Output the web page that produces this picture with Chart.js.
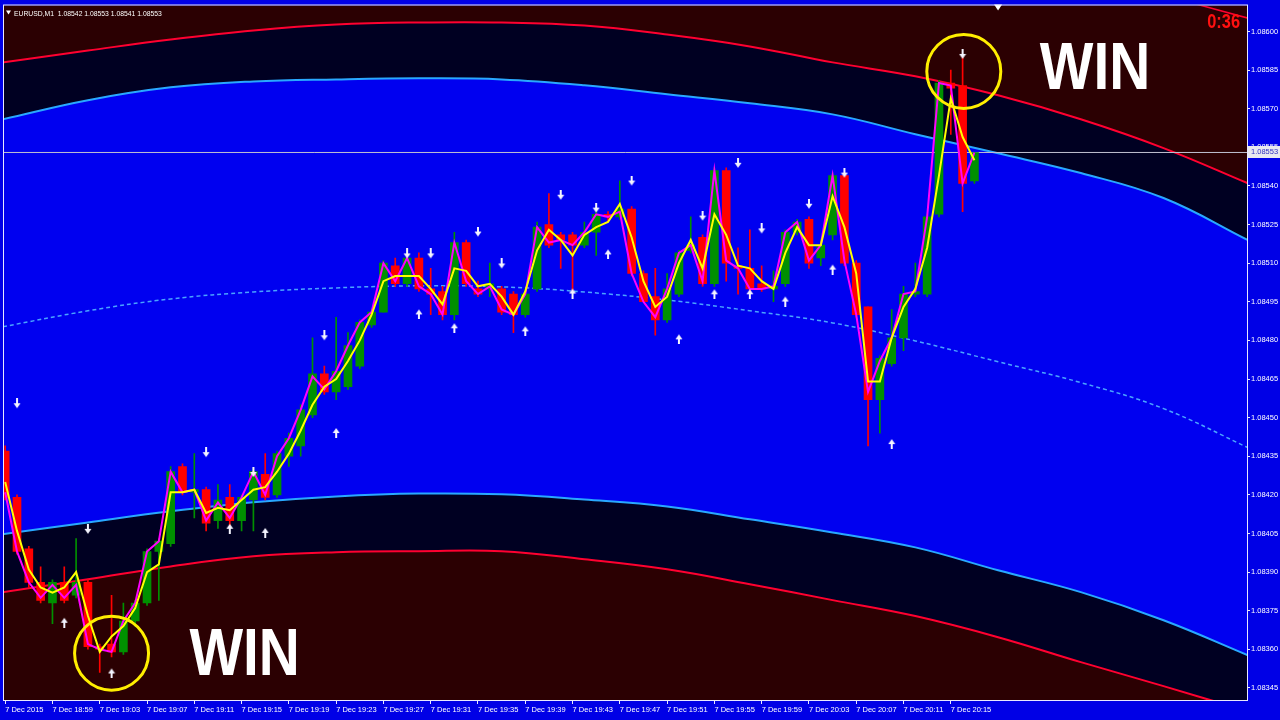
<!DOCTYPE html>
<html>
<head>
<meta charset="utf-8">
<title>EURUSD,M1</title>
<script src="https://cdn.jsdelivr.net/npm/chart.js@4.4.1/dist/chart.umd.min.js"></script>
<style>
  html, body { margin: 0; padding: 0; background: #0000e6; overflow: hidden; }
  #wrap { width: 1280px; height: 720px; }
</style>
</head>
<body>
<div id="wrap"><canvas id="mt4" width="1280" height="720"></canvas></div>
<script>
// EURUSD M1, 7 Dec 2015, one bar per minute from 18:55 (bar 0) to 20:17 (bar 82)
const symbol = 'EURUSD,M1';
const timer = '0:36';

const timeLabels = ['7 Dec 2015', '7 Dec 18:59', '7 Dec 19:03', '7 Dec 19:07', '7 Dec 19:11', '7 Dec 19:15',
  '7 Dec 19:19', '7 Dec 19:23', '7 Dec 19:27', '7 Dec 19:31', '7 Dec 19:35', '7 Dec 19:39', '7 Dec 19:43',
  '7 Dec 19:47', '7 Dec 19:51', '7 Dec 19:55', '7 Dec 19:59', '7 Dec 20:03', '7 Dec 20:07', '7 Dec 20:11', '7 Dec 20:15'];

const priceTicks = [1.08345, 1.08360, 1.08375, 1.08390, 1.08405, 1.08420, 1.08435, 1.08450, 1.08465,
  1.08480, 1.08495, 1.08510, 1.08525, 1.08540, 1.08555, 1.08570, 1.08585, 1.08600];

const opens = [1.08437, 1.08419, 1.08399, 1.08386, 1.08378, 1.08386, 1.08381, 1.08386, 1.08361, 1.08362,
  1.08359, 1.08371, 1.08378, 1.08398, 1.08401, 1.08431, 1.08421, 1.08422, 1.08410, 1.08419,
  1.08410, 1.08418, 1.08428, 1.08420, 1.08435, 1.08439, 1.08451, 1.08467, 1.08460, 1.08462,
  1.08470, 1.08486, 1.08491, 1.08509, 1.08502, 1.08512, 1.08500, 1.08499, 1.08490, 1.08518,
  1.08500, 1.08500, 1.08500, 1.08498, 1.08490, 1.08500, 1.08525, 1.08521, 1.08521, 1.08517,
  1.08522, 1.08529, 1.08528, 1.08531, 1.08506, 1.08497, 1.08488, 1.08498, 1.08515, 1.08520,
  1.08502, 1.08546, 1.08509, 1.08508, 1.08502, 1.08500, 1.08502, 1.08522, 1.08527, 1.08512,
  1.08521, 1.08544, 1.08510, 1.08493, 1.08457, 1.08471, 1.08481, 1.08498, 1.08498, 1.08529,
  1.08580, 1.08579, 1.08542];
const highs = [1.08439, 1.08420, 1.08400, 1.08392, 1.08387, 1.08392, 1.08403, 1.08387, 1.08362, 1.08381,
  1.08378, 1.08379, 1.08399, 1.08403, 1.08431, 1.08432, 1.08436, 1.08423, 1.08424, 1.08424,
  1.08420, 1.08430, 1.08436, 1.08437, 1.08444, 1.08455, 1.08481, 1.08470, 1.08489, 1.08483,
  1.08488, 1.08492, 1.08511, 1.08512, 1.08515, 1.08514, 1.08508, 1.08501, 1.08522, 1.08519,
  1.08503, 1.08510, 1.08501, 1.08499, 1.08500, 1.08526, 1.08537, 1.08522, 1.08522, 1.08526,
  1.08530, 1.08530, 1.08542, 1.08532, 1.08507, 1.08508, 1.08506, 1.08515, 1.08528, 1.08521,
  1.08547, 1.08547, 1.08516, 1.08523, 1.08509, 1.08507, 1.08523, 1.08527, 1.08528, 1.08519,
  1.08545, 1.08545, 1.08511, 1.08493, 1.08474, 1.08492, 1.08501, 1.08510, 1.08529, 1.08581,
  1.08585, 1.08590, 1.08553];
const lows = [1.08418, 1.08397, 1.08384, 1.08378, 1.08370, 1.08378, 1.08380, 1.08360, 1.08351, 1.08357,
  1.08358, 1.08369, 1.08377, 1.08379, 1.08400, 1.08420, 1.08411, 1.08406, 1.08407, 1.08407,
  1.08406, 1.08406, 1.08418, 1.08419, 1.08431, 1.08435, 1.08450, 1.08459, 1.08457, 1.08461,
  1.08469, 1.08485, 1.08491, 1.08501, 1.08501, 1.08499, 1.08490, 1.08488, 1.08488, 1.08501,
  1.08497, 1.08497, 1.08490, 1.08483, 1.08489, 1.08499, 1.08516, 1.08508, 1.08499, 1.08516,
  1.08513, 1.08526, 1.08527, 1.08505, 1.08495, 1.08482, 1.08487, 1.08497, 1.08514, 1.08501,
  1.08501, 1.08503, 1.08498, 1.08499, 1.08499, 1.08495, 1.08501, 1.08521, 1.08508, 1.08509,
  1.08519, 1.08509, 1.08489, 1.08439, 1.08444, 1.08470, 1.08476, 1.08497, 1.08497, 1.08528,
  1.08560, 1.08530, 1.08541];
const closes = [1.08419, 1.08398, 1.08386, 1.08379, 1.08386, 1.08379, 1.08386, 1.08361, 1.08360, 1.08359,
  1.08371, 1.08378, 1.08398, 1.08402, 1.08429, 1.08421, 1.08422, 1.08409, 1.08418, 1.08410,
  1.08419, 1.08429, 1.08419, 1.08436, 1.08442, 1.08453, 1.08467, 1.08460, 1.08468, 1.08478,
  1.08487, 1.08491, 1.08510, 1.08502, 1.08512, 1.08500, 1.08498, 1.08490, 1.08518, 1.08502,
  1.08498, 1.08502, 1.08491, 1.08490, 1.08498, 1.08524, 1.08517, 1.08519, 1.08517, 1.08522,
  1.08529, 1.08528, 1.08531, 1.08506, 1.08495, 1.08488, 1.08500, 1.08514, 1.08517, 1.08502,
  1.08546, 1.08510, 1.08508, 1.08500, 1.08500, 1.08501, 1.08522, 1.08526, 1.08510, 1.08517,
  1.08544, 1.08510, 1.08490, 1.08457, 1.08473, 1.08481, 1.08498, 1.08499, 1.08528, 1.08580,
  1.08578, 1.08541, 1.08553];

// fast (magenta) and slow (yellow) averages
const fastLine = [1.08421, 1.08398, 1.08386, 1.08380, 1.08385, 1.08380, 1.08385, 1.08362, 1.08360, 1.08359,
  1.08371, 1.08378, 1.08398, 1.08402, 1.08429, 1.08421, 1.08422, 1.08410, 1.08417, 1.08411,
  1.08419, 1.08429, 1.08420, 1.08435, 1.08442, 1.08453, 1.08466, 1.08461, 1.08468, 1.08478,
  1.08487, 1.08491, 1.08510, 1.08503, 1.08512, 1.08501, 1.08498, 1.08490, 1.08518, 1.08503,
  1.08498, 1.08501, 1.08492, 1.08490, 1.08498, 1.08524, 1.08518, 1.08519, 1.08517, 1.08522,
  1.08529, 1.08528, 1.08530, 1.08506, 1.08495, 1.08489, 1.08500, 1.08514, 1.08517, 1.08503,
  1.08546, 1.08511, 1.08508, 1.08500, 1.08500, 1.08501, 1.08522, 1.08526, 1.08511, 1.08517,
  1.08544, 1.08511, 1.08490, 1.08460, 1.08472, 1.08481, 1.08498, 1.08499, 1.08528, 1.08580,
  1.08579, 1.08541, 1.08553];
const slowLine = [1.08425, 1.08406, 1.08391, 1.08384, 1.08382, 1.08384, 1.08390, 1.08373, 1.08359, 1.08365,
  1.08369, 1.08376, 1.08390, 1.08393, 1.08421, 1.08421, 1.08422, 1.08413, 1.08415, 1.08414,
  1.08418, 1.08422, 1.08423, 1.08429, 1.08436, 1.08445, 1.08455, 1.08462, 1.08465, 1.08472,
  1.08480, 1.08490, 1.08503, 1.08505, 1.08505, 1.08505, 1.08500, 1.08494, 1.08508, 1.08507,
  1.08501, 1.08502, 1.08497, 1.08490, 1.08499, 1.08515, 1.08523, 1.08519, 1.08513, 1.08521,
  1.08524, 1.08526, 1.08533, 1.08520, 1.08503, 1.08493, 1.08497, 1.08510, 1.08519, 1.08508,
  1.08529, 1.08521, 1.08509, 1.08508, 1.08503, 1.08500, 1.08514, 1.08524, 1.08517, 1.08517,
  1.08536, 1.08524, 1.08506, 1.08464, 1.08464, 1.08481, 1.08493, 1.08500, 1.08516, 1.08544,
  1.08574, 1.08559, 1.08550];

// regression channel, sampled along the bars
const channelBars = [-0.2, 7, 14, 21, 28, 35, 42, 49, 56, 63, 70, 77, 84, 91, 98, 105.3];
const channelTop = [1.085880, 1.085926, 1.085969, 1.086004, 1.086027, 1.086035, 1.086035, 1.086023,
  1.085988, 1.085942, 1.085880, 1.085826, 1.085752, 1.085659, 1.085547, 1.085407];
const channelUpper = [1.085659, 1.085733, 1.085783, 1.085806, 1.085814, 1.085818, 1.085814, 1.085791,
  1.085756, 1.085721, 1.085678, 1.085601, 1.085527, 1.085450, 1.085353, 1.085186];
const channelMid = [1.084853, 1.084915, 1.084961, 1.084988, 1.085004, 1.085012, 1.085008, 1.084988,
  1.084957, 1.084915, 1.084868, 1.084798, 1.084717, 1.084636, 1.084535, 1.084380];
const channelLower = [1.084047, 1.084093, 1.084136, 1.084171, 1.084194, 1.084205, 1.084202, 1.084182,
  1.084155, 1.084105, 1.084054, 1.083996, 1.083907, 1.083822, 1.083713, 1.083574];
const channelBottom = [1.083822, 1.083872, 1.083922, 1.083961, 1.083977, 1.083981, 1.083981, 1.083950,
  1.083911, 1.083853, 1.083791, 1.083729, 1.083647, 1.083550, 1.083457, 1.083357];
const outerBars = [100, 105.3];
const outerTop = [1.086116, 1.086050];

// signal arrows: bar index and price
const sellBars = [1, 7, 17, 21, 27, 34, 36, 40, 42, 47, 50, 53, 59, 62, 64, 68, 71, 81];
const sellPrices = [1.084554, 1.084066, 1.084364, 1.084287, 1.084818, 1.085136, 1.085136, 1.085221, 1.085097,
  1.085364, 1.085314, 1.085419, 1.085283, 1.085488, 1.085233, 1.085329, 1.085450, 1.085911];
const buyBars = [5, 9, 19, 22, 28, 35, 38, 44, 48, 51, 57, 60, 63, 66, 70, 75];
const buyPrices = [1.083705, 1.083508, 1.084070, 1.084054, 1.084442, 1.084903, 1.084849, 1.084837, 1.084984,
  1.085136, 1.084806, 1.084981, 1.084981, 1.084953, 1.085077, 1.084399];

// the two marked trades
const winBars = [9, 81.1];
const winPrices = [1.083585, 1.085845];
const winTextBars = [20.26, 92.2];
const winTextPrices = [1.083500, 1.085775];

const sans = '"Liberation Sans", Arial, sans-serif';
const bull = '#009000';
const bear = '#ff0000';

const barIdx = closes.map((_, i) => i);
const candleColor = barIdx.map(i => closes[i] >= opens[i] ? bull : bear);
const pts = (xs, ys) => xs.map((x, i) => ({ x, y: ys[i] }));

function makeArrow(down) {
  const c = document.createElement('canvas');
  c.width = 8; c.height = 11;
  const g = c.getContext('2d');
  g.fillStyle = '#f4f4ff';
  g.beginPath();
  if (down) {
    g.moveTo(3, 0); g.lineTo(5, 0); g.lineTo(5, 5); g.lineTo(7.5, 5);
    g.lineTo(4, 10); g.lineTo(0.5, 5); g.lineTo(3, 5);
  } else {
    g.moveTo(4, 1); g.lineTo(7.5, 6); g.lineTo(5, 6); g.lineTo(5, 11);
    g.lineTo(3, 11); g.lineTo(3, 6); g.lineTo(0.5, 6);
  }
  g.closePath();
  g.fill();
  return c;
}

const curve = (data, color, extra) => Object.assign({
  type: 'line', data, borderColor: color, borderWidth: 2, pointRadius: 0, tension: 0.4, fill: false
}, extra);

const datasets = [
  curve(pts(channelBars, channelTop), '#ff0030', { fill: 4, backgroundColor: '#000022', order: 100 }),
  curve(pts(channelBars, channelUpper), '#29a8ff', { fill: 3, backgroundColor: '#0000f0', order: 98 }),
  curve(pts(channelBars, channelMid), '#4aa4ff', { borderWidth: 1.5, borderDash: [4, 3], order: 96 }),
  curve(pts(channelBars, channelLower), '#29a8ff', { order: 97 }),
  curve(pts(channelBars, channelBottom), '#ff0030', { order: 99 }),
  curve(pts(outerBars, outerTop), '#ff0030', { borderWidth: 1.5, tension: 0, order: 95 }),
  {
    type: 'line', order: 90, borderColor: '#c0c0d0', borderWidth: 1, pointRadius: 0,
    data: [{ x: -0.1, y: closes[closes.length - 1] }, { x: 105.1, y: closes[closes.length - 1] }]
  },
  {
    type: 'bar', order: 50, grouped: false, barThickness: 1, borderWidth: 0,
    backgroundColor: candleColor,
    data: barIdx.map(i => ({ x: i, y: [lows[i], highs[i]] }))
  },
  {
    type: 'bar', order: 49, grouped: false, barThickness: 8, borderWidth: 0, minBarLength: 1,
    backgroundColor: candleColor,
    data: barIdx.map(i => ({ x: i, y: [opens[i], closes[i]] }))
  },
  {
    type: 'line', order: 40, borderColor: '#ff00ff', borderWidth: 2, pointRadius: 0, tension: 0,
    data: pts(barIdx, fastLine)
  },
  {
    type: 'line', order: 39, borderColor: '#ffff00', borderWidth: 2, pointRadius: 0, tension: 0,
    data: pts(barIdx, slowLine)
  },
  {
    type: 'line', order: 30, showLine: false, pointRadius: 5, pointStyle: makeArrow(true),
    data: pts(sellBars, sellPrices)
  },
  {
    type: 'line', order: 30, showLine: false, pointRadius: 5, pointStyle: makeArrow(false),
    data: pts(buyBars, buyPrices)
  },
  {
    type: 'line', order: 20, showLine: false, pointStyle: 'circle', pointRadius: 37,
    pointBackgroundColor: 'rgba(0,0,0,0)', pointBorderColor: '#ffee00', pointBorderWidth: 3,
    data: pts(winBars, winPrices)
  }
];

// text squeezed sideways, the terminal uses a narrow face
function narrowText(ctx, text, x, y, squeeze) {
  ctx.save();
  ctx.translate(x, y);
  ctx.scale(squeeze, 1);
  ctx.fillText(text, 0, 0);
  ctx.restore();
}

const mt4Frame = {
  id: 'mt4Frame',
  beforeDraw(chart) {
    const { ctx, chartArea: a } = chart;
    ctx.save();
    ctx.fillStyle = '#0000e6';
    ctx.fillRect(0, 0, chart.width, chart.height);
    ctx.fillStyle = '#2b0002';
    ctx.fillRect(a.left, a.top, a.right - a.left, a.bottom - a.top);
    ctx.restore();
  },
  afterDatasetsDraw(chart) {
    const { ctx, chartArea: a, scales: { x, y } } = chart;
    ctx.save();
    // WIN notes
    ctx.fillStyle = '#ffffff';
    ctx.font = 'bold 66px ' + sans;
    ctx.textAlign = 'center';
    ctx.textBaseline = 'alphabetic';
    winTextBars.forEach((b, i) => {
      narrowText(ctx, 'WIN', x.getPixelForValue(b), y.getPixelForValue(winTextPrices[i]), 0.86);
    });
    // candle timer
    ctx.fillStyle = '#ff1010';
    ctx.font = 'bold 20px ' + sans;
    ctx.textAlign = 'right';
    ctx.textBaseline = 'middle';
    narrowText(ctx, timer, a.right - 7, a.top + 17, 0.82);
    // header
    const n = closes.length - 1;
    ctx.fillStyle = '#ffffff';
    ctx.beginPath();
    ctx.moveTo(a.left + 2, a.top + 5);
    ctx.lineTo(a.left + 7, a.top + 5);
    ctx.lineTo(a.left + 4.5, a.top + 9);
    ctx.closePath();
    ctx.fill();
    ctx.font = '8px ' + sans;
    ctx.textAlign = 'left';
    narrowText(ctx, symbol + '  ' + [opens[n], highs[n], lows[n], closes[n]].map(v => v.toFixed(5)).join(' '),
      a.left + 10, a.top + 8, 0.85);
    // chart shift marker
    const sx = x.getPixelForValue(84);
    ctx.beginPath();
    ctx.moveTo(sx - 4, a.top - 1);
    ctx.lineTo(sx + 4, a.top - 1);
    ctx.lineTo(sx, a.top + 5);
    ctx.closePath();
    ctx.fill();
    ctx.restore();
  },
  afterDraw(chart) {
    const { ctx, chartArea: a, scales: { y } } = chart;
    ctx.save();
    ctx.strokeStyle = '#e8e8ff';
    ctx.lineWidth = 1;
    ctx.strokeRect(a.left - 0.5, a.top - 0.5, a.right - a.left + 1, a.bottom - a.top + 1);
    // bid label
    const last = closes[closes.length - 1];
    const py = Math.round(y.getPixelForValue(last));
    ctx.fillStyle = '#e8e8f0';
    ctx.fillRect(a.right + 1, py - 6, chart.width - a.right - 1, 12);
    ctx.fillStyle = '#3030c0';
    ctx.font = '7.5px ' + sans;
    ctx.textAlign = 'left';
    ctx.textBaseline = 'middle';
    ctx.fillText(last.toFixed(5), a.right + 4, py);
    ctx.restore();
  }
};

new Chart(document.getElementById('mt4'), {
  type: 'line',
  data: { datasets },
  options: {
    responsive: false,
    animation: false,
    devicePixelRatio: 1,
    layout: { autoPadding: false, padding: { left: 4, top: 4, right: 0, bottom: 0 } },
    plugins: { legend: { display: false }, tooltip: { enabled: false } },
    scales: {
      x: {
        type: 'linear', min: -0.1, max: 105.06, offset: false,
        grid: { offset: false, drawOnChartArea: false, drawTicks: true, tickLength: 4, color: '#e8e8ff' },
        border: { color: '#e8e8ff' },
        afterBuildTicks: s => { s.ticks = timeLabels.map((_, k) => ({ value: k * 4 })); },
        afterFit: s => { s.height = 20; },
        ticks: {
          autoSkip: false, maxRotation: 0, minRotation: 0, align: 'start', padding: 1,
          color: '#ffffff', font: { family: sans, size: 7.5 },
          callback: (v, i) => timeLabels[i]
        }
      },
      y: {
        type: 'linear', position: 'right', min: 1.083403, max: 1.086101, beginAtZero: false,
        grid: { drawOnChartArea: false, drawTicks: true, tickLength: 3, color: '#e8e8ff' },
        border: { color: '#e8e8ff' },
        afterBuildTicks: s => { s.ticks = priceTicks.map(v => ({ value: v })); },
        afterFit: s => { s.width = 33; },
        ticks: {
          padding: 1, color: '#ffffff', font: { family: sans, size: 7.5 },
          callback: v => v.toFixed(5)
        }
      }
    }
  },
  plugins: [mt4Frame]
});
</script>
</body>
</html>
